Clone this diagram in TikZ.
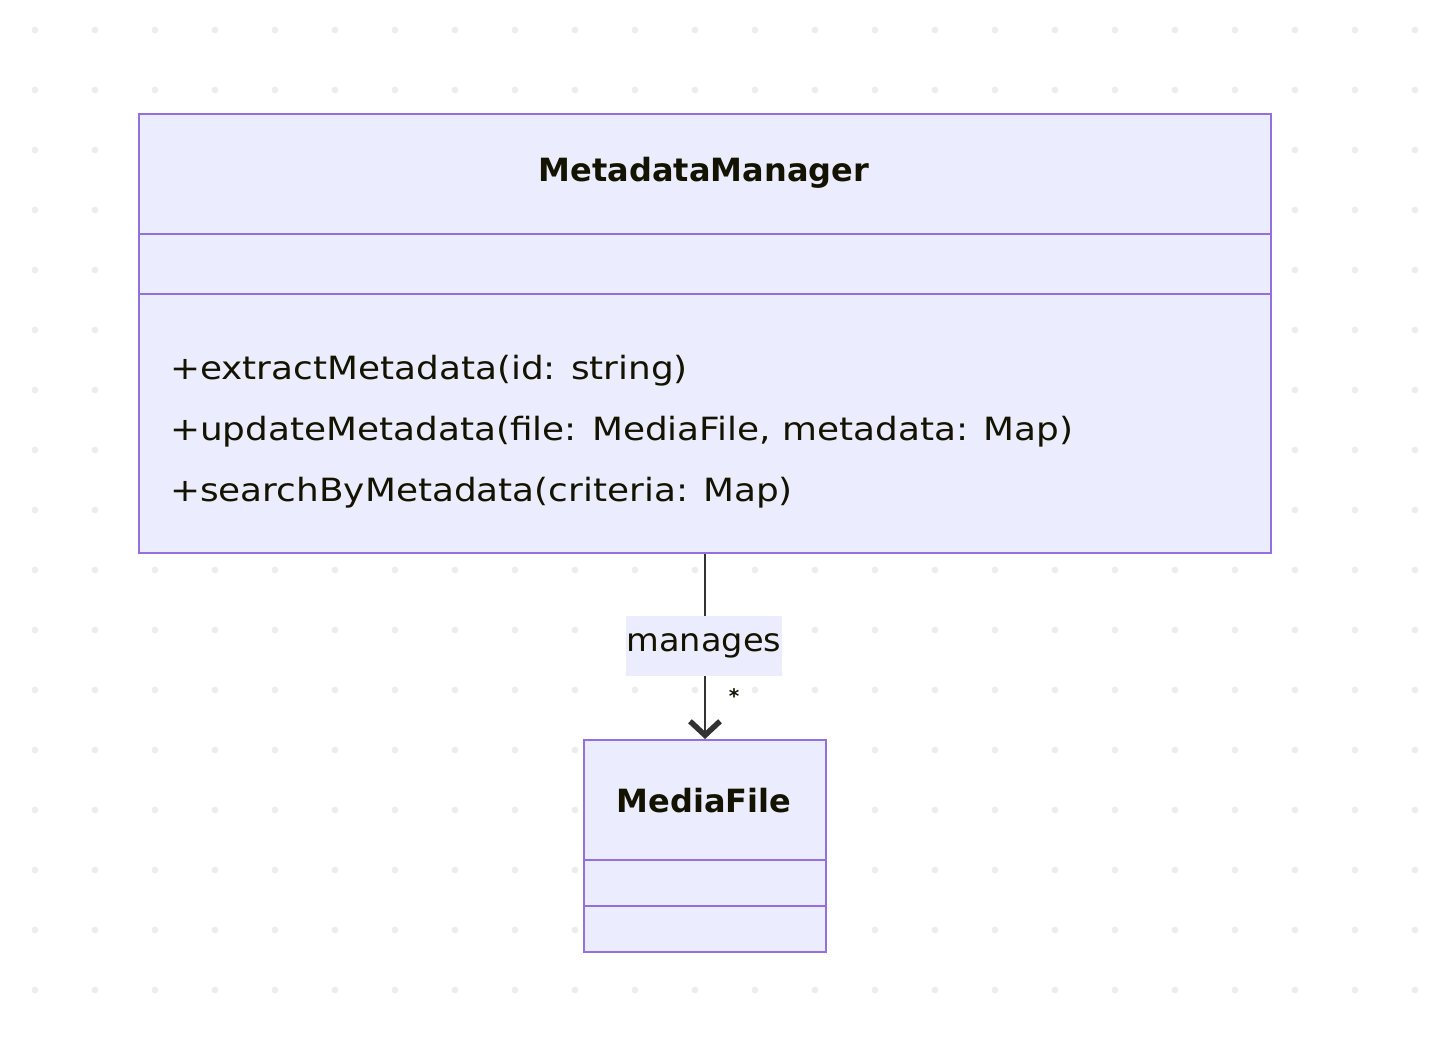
\documentclass[tikz,border=0pt]{standalone}
\usepackage{fontspec}
\setmainfont{DejaVu Sans}
\newfontfamily\memfont[FakeStretch=1.12]{DejaVu Sans}
\newfontfamily\lblfont[FakeStretch=1.05]{DejaVu Sans}
\newfontfamily\ttlfont{DejaVu Sans}
\usetikzlibrary{arrows.meta}
\definecolor{boxfill}{HTML}{ECECFF}
\definecolor{boxline}{HTML}{9370DB}
\definecolor{txt}{HTML}{131300}
\definecolor{edge}{HTML}{333333}
\definecolor{dotc}{HTML}{EDEDED}
\tikzset{
  classbox/.style={draw=boxline, fill=boxfill, line width=2pt, inner sep=0pt, anchor=north west},
  divider/.style={draw=boxline, line width=2pt},
  title/.style={font=\ttlfont\fontsize{32}{38}\selectfont\bfseries, text=txt, inner sep=0pt},
  member/.style={font=\memfont\fontsize{32}{38}\selectfont, text=txt, inner sep=0pt, anchor=west},
  lbl/.style={font=\lblfont\fontsize{32}{38}\selectfont, text=txt, fill=boxfill, inner sep=0pt, minimum width=156pt, minimum height=60pt},
  conn/.style={draw=edge, line width=2pt},
}
\begin{document}
\begin{tikzpicture}[x=1pt,y=-1pt]
\useasboundingbox (0,0) rectangle (1450,1046);
\foreach \i in {0,...,23}{\foreach \j in {0,...,16}{\fill[dotc] (35+60*\i,30+60*\j) circle (3.4pt);}}
% MetadataManager
\node[classbox, minimum width=1132pt, minimum height=439pt] (mm) at (138,113) {};
\draw[divider] (138,234) -- (1270,234);
\draw[divider] (138,294) -- (1270,294);
\node[title] (mmt) at (704,173) {MetadataManager};
\node[member] (m1) at (170,371) {+extractMetadata(id: string)};
\node[member] (m2) at (170,432) {+updateMetadata(file: MediaFile, metadata: Map)};
\node[member] (m3) at (170,493) {+searchByMetadata(criteria: Map)};
% MediaFile
\node[classbox, minimum width=242pt, minimum height=212pt] (mf) at (583,739) {};
\draw[divider] (583,860) -- (825,860);
\draw[divider] (583,906) -- (825,906);
\node[title] (mft) at (704,801) {MediaFile};
% edge
\draw[conn, -{Straight Barb[length=14pt,width=30pt,line width=5.5pt]}] (mm.south) -- (mf.north);
\node[lbl] (lab) at (704,646) {manages};
\node[font=\bfseries\fontsize{20}{24}\selectfont, text=txt, inner sep=0pt] (star) at (734,696) {*};
\end{tikzpicture}
\end{document}
